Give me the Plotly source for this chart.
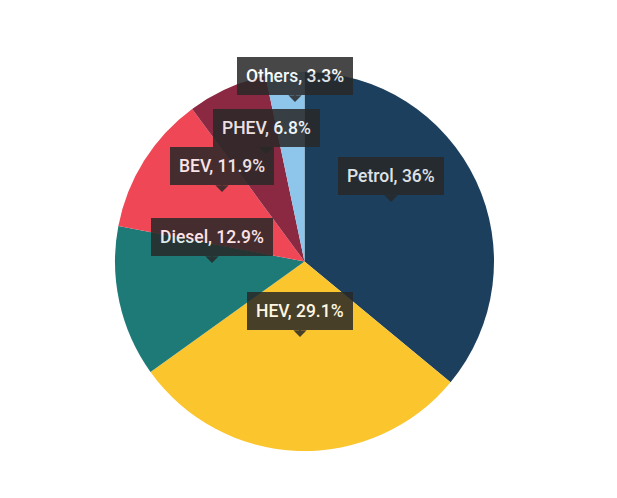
import plotly.graph_objects as go

# Data
labels = ["Petrol", "HEV", "Diesel", "BEV", "PHEV", "Others"]
values = [36, 29.1, 12.9, 11.9, 6.8, 3.3]
colors = ["#1c3f5e", "#fbc52e", "#1e7a77", "#ef4756", "#8b2942", "#8ec5ea"]

# Layout
W, H = 617, 498
ML, MR, MT, MB = 20, 28, 72, 47
# label pointer tips, in pixels of the page (layout only)
tips_px = [(391, 202), (300, 337), (212, 263), (222, 192), (266, 154), (295, 102)]

fig = go.Figure(go.Pie(
    labels=labels, values=values, sort=False, direction="clockwise", rotation=0,
    marker=dict(colors=colors, line=dict(width=0)), textinfo="none",
    hovertemplate="%{label}: %{value}%<extra></extra>", showlegend=False,
))

pw, ph = W - ML - MR, H - MT - MB
anns = []
for lab, val, (px, py) in zip(labels, values, tips_px):
    txt = f"{lab}, {val:g}%"
    anns.append(dict(
        x=(px - ML) / pw, y=(H - MB - py) / ph, xref="paper", yref="paper",
        text=txt, showarrow=True, ax=0, ay=-26, arrowhead=1, arrowsize=1.3,
        arrowwidth=1.7, arrowcolor="rgb(40,40,40)", bgcolor="rgb(40,40,40)",
        borderpad=9, borderwidth=0, opacity=0.85,
        font=dict(family="Roboto", size=17.5, weight=500, color="white"),
    ))

fig.update_layout(
    width=W, height=H, margin=dict(l=ML, r=MR, t=MT, b=MB),
    paper_bgcolor="white", plot_bgcolor="white", annotations=anns,
)
fig.write_html("out.html", config={"displayModeBar": False},
               post_script="document.body.style.margin='0px';document.body.style.padding='0px';")
